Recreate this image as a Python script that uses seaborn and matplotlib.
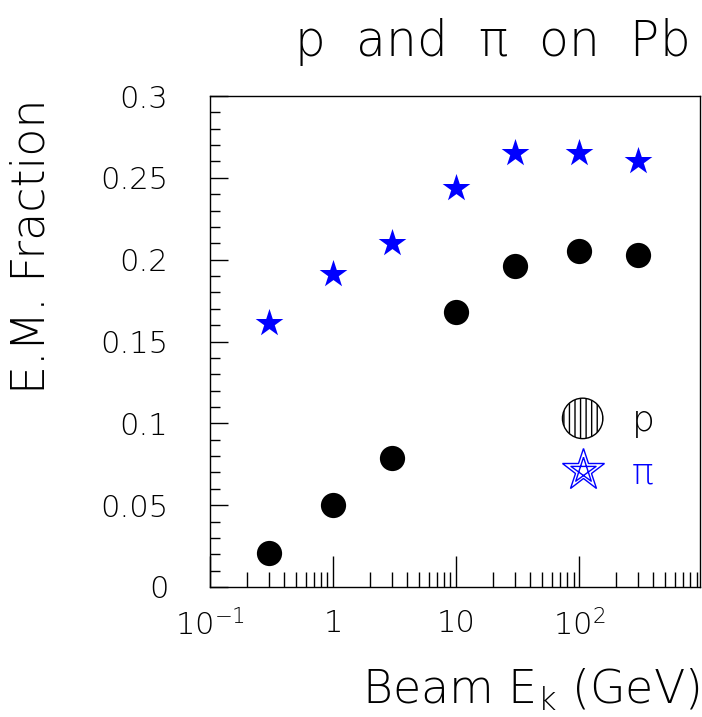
import matplotlib
matplotlib.use("Agg")
import matplotlib.pyplot as plt
import matplotlib.patches as mpatches
import numpy as np
import pandas as pd
import seaborn as sns
from matplotlib.legend_handler import HandlerPatch
from matplotlib.lines import Line2D
from matplotlib.path import Path
from matplotlib.ticker import FixedLocator, FixedFormatter, LogLocator, NullFormatter, MultipleLocator

# data
energy = [0.3, 1, 3, 10, 30, 100, 300]
frac_p = [0.021, 0.050, 0.079, 0.168, 0.196, 0.205, 0.203]
frac_pi = [0.161, 0.191, 0.210, 0.244, 0.265, 0.265, 0.260]
xtick_vals = [0.1, 1, 10, 100]
xtick_labels = ["$10^{-1}$", "1", "10", "$10^{2}$"]
ytick_vals = [0, 0.05, 0.1, 0.15, 0.2, 0.25, 0.3]
ytick_labels = ["0", "0.05", "0.1", "0.15", "0.2", "0.25", "0.3"]

sns.set_style("white")
plt.rcParams["font.family"] = ["DejaVu Sans"]
plt.rcParams["font.weight"] = "ultralight"
plt.rcParams["text.color"] = "black"
plt.rcParams["xtick.color"] = "black"
plt.rcParams["ytick.color"] = "black"
plt.rcParams["mathtext.fontset"] = "custom"
plt.rcParams["mathtext.rm"] = "DejaVu Sans:extralight"
plt.rcParams["mathtext.it"] = "DejaVu Sans:extralight"

df_p = pd.DataFrame({"E": energy, "f": frac_p})
df_pi = pd.DataFrame({"E": energy, "f": frac_pi})

fig = plt.figure(figsize=(7.02, 7.17), dpi=100)
ax = fig.add_axes([210 / 702, 130 / 717, 490 / 702, 491 / 717])

sns.scatterplot(data=df_p, x="E", y="f", ax=ax, marker="o", s=330,
                color="black", edgecolor="black", linewidth=0, zorder=3)
sns.scatterplot(data=df_pi, x="E", y="f", ax=ax, marker="*", s=440,
                color="blue", edgecolor="blue", linewidth=0, zorder=3)

ax.set_xscale("log")
ax.set_xlim(0.1, 960)
ax.set_ylim(0, 0.3)

ax.xaxis.set_major_locator(FixedLocator(xtick_vals))
ax.xaxis.set_major_formatter(FixedFormatter(xtick_labels))
ax.xaxis.set_minor_locator(LogLocator(base=10, subs=np.arange(2, 10), numticks=20))
ax.xaxis.set_minor_formatter(NullFormatter())
ax.set_yticks(ytick_vals)
ax.set_yticklabels(ytick_labels)
ax.yaxis.set_minor_locator(MultipleLocator(0.01))

ax.tick_params(axis="both", which="both", direction="in", color="black",
               labelsize=22, width=1, top=False, right=False, left=True, bottom=True)
ax.tick_params(axis="x", which="major", length=22, pad=16)
ax.tick_params(axis="x", which="minor", length=11)
ax.tick_params(axis="y", which="major", length=13, pad=30)
ax.tick_params(axis="y", which="minor", length=7)
for sp in ax.spines.values():
    sp.set_color("black")
    sp.set_linewidth(1)

ax.set_xlabel("")
ax.set_ylabel("")

fig.text(688 / 702, 1 - 42 / 717, r"p  and  $\pi$  on  Pb", ha="right", va="center", fontsize=35)
fig.text(700 / 702, 1 - 690 / 717, "Beam E$_{k}$ (GeV)", ha="right", va="center", fontsize=33)
fig.text(32 / 702, 1 - 98 / 717, "E.M. Fraction", ha="center", va="top", rotation=90, fontsize=33)


class HandlerCircle(HandlerPatch):
    def create_artists(self, legend, orig_handle, xdescent, ydescent, width, height, fontsize, trans):
        c = mpatches.Circle((width / 2 - xdescent, height / 2 - ydescent), radius=height * 0.8,
                            facecolor="white", edgecolor="black", hatch="|||", linewidth=1)
        self.update_prop(c, orig_handle, legend)
        c.set_transform(trans)
        return [c]


ang = np.pi / 2 + np.arange(5) * 2 * np.pi / 5
pts = np.column_stack([np.cos(ang), np.sin(ang)])
order = [0, 2, 4, 1, 3, 0]
pentagram = Path(pts[order])

circ_handle = mpatches.Circle((0, 0), 1, facecolor="white", edgecolor="black", hatch="|||")
star_outline = Line2D([], [], marker="*", markersize=32, markerfacecolor="none",
                      markeredgecolor="blue", linestyle="none", markeredgewidth=1)
star_inner = Line2D([], [], marker=pentagram, markersize=19, markerfacecolor="none",
                    markeredgecolor="blue", linestyle="none", markeredgewidth=1)

leg = ax.legend([circ_handle, (star_outline, star_inner)], ["p", r"$\pi$"],
                handler_map={mpatches.Circle: HandlerCircle()},
                loc="center left", bbox_to_anchor=(0.65, 0.285), frameon=False,
                fontsize=26, handlelength=1.2, handletextpad=0.75, labelspacing=0.5)
for t, c in zip(leg.get_texts(), ["black", "blue"]):
    t.set_color(c)

fig.savefig("out.png", dpi=100)
